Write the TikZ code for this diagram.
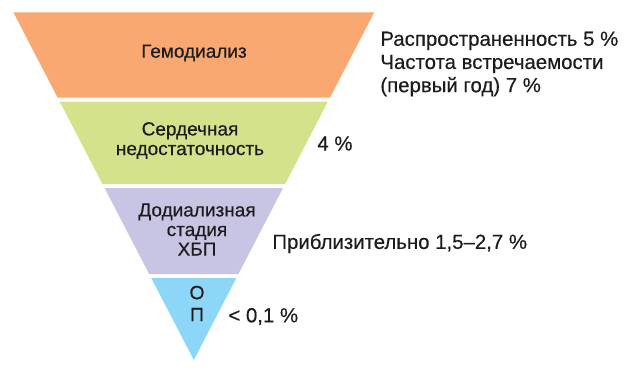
\documentclass[tikz,border=0pt]{standalone}
\usepackage{fontspec}
\setmainfont[FakeBold=0.4]{Liberation Sans}
\usepackage{tikz}
\usetikzlibrary{positioning,calc}
\definecolor{bandorange}{RGB}{248,168,112}
\definecolor{bandgreen}{RGB}{212,226,140}
\definecolor{bandlilac}{RGB}{200,196,228}
\definecolor{bandblue}{RGB}{140,214,248}
\definecolor{inktext}{RGB}{30,27,28}

\begin{document}
\begin{tikzpicture}[x=0.5pt,y=-0.5pt,
    every node/.style={text=inktext,inner sep=0pt},
    band/.style={font=\fontsize{9.5}{9.8}\selectfont,align=center},
    rate/.style={font=\fontsize{10.2}{11.6}\selectfont,align=left,anchor=west}]
  \useasboundingbox (0,0) rectangle (632,374);
  % funnel bands, cut from one triangle
  \foreach \ya/\yb/\col in {12.3/97.7/bandorange,101.7/184/bandgreen,
                            188/274/bandlilac,278/360/bandblue}
    \fill[\col] ({193.8-0.519*(360-\ya)},\ya) -- ({193.8+0.519*(360-\ya)},\ya)
      -- ({193.8+0.519*(360-\yb)},\yb) -- ({193.8-0.519*(360-\yb)},\yb) -- cycle;
  \node[band] (hd)  at (194,53)    {Гемодиализ};
  \node[band] (hf)  at (190,140.5) {Сердечная\\недостаточность};
  \node[band] (ckd) at (197,229.5) {Додиализная\\стадия\\ХБП};
  \node[band,font=\fontsize{9.6}{11}\selectfont] (ap) at (197,303.5) {О\\П};
  % rates on the right
  \node[rate] (hdrate)  at (380,64)    {Распространенность 5 \%\\Частота встречаемости\\(первый год) 7 \%};
  \node[rate] (hfrate)  at (317,143.5) {4 \%};
  \node[rate] (ckdrate) at (272,243.5) {Приблизительно 1,5–2,7 \%};
  \node[rate] (aprate)  at (228,316.5) {< 0,1 \%};
\end{tikzpicture}
\end{document}
